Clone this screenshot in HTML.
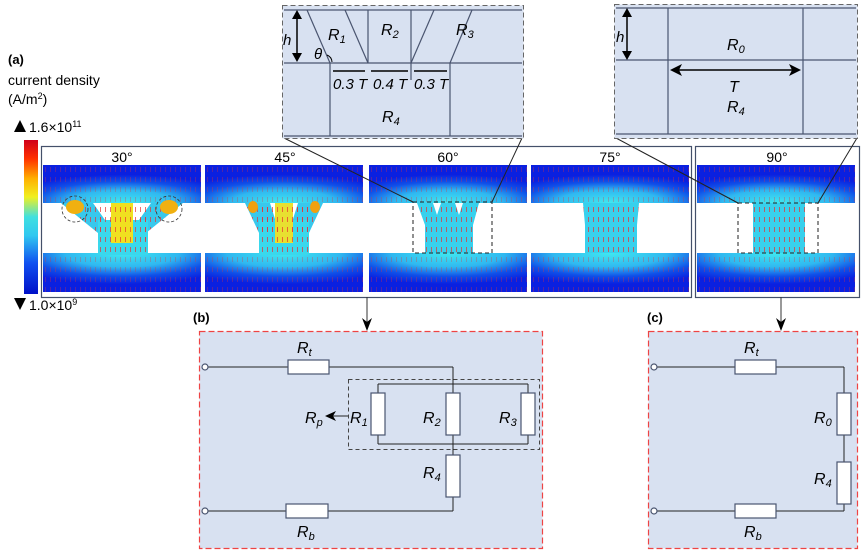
<!DOCTYPE html>
<html><head><meta charset="utf-8"><style>
html,body{margin:0;padding:0;background:#fff}
svg{display:block}
text{font-family:"Liberation Sans",Arial,sans-serif}
.it{font-style:italic}
</style></head><body>
<svg width="865" height="554" viewBox="0 0 865 554" xmlns="http://www.w3.org/2000/svg">
<defs>
<linearGradient id="cb" x1="0" y1="0" x2="0" y2="1">
<stop offset="0" stop-color="#d0001a"/><stop offset="0.12" stop-color="#ff3000"/><stop offset="0.25" stop-color="#ffb000"/><stop offset="0.37" stop-color="#f0f020"/><stop offset="0.5" stop-color="#40e0e0"/><stop offset="0.62" stop-color="#30c8f0"/><stop offset="0.8" stop-color="#1050f0"/><stop offset="1" stop-color="#0010c8"/>
</linearGradient>
<radialGradient id="gt" cx="0.5" cy="1" r="0.75" fx="0.5" fy="1">
<stop offset="0" stop-color="#40e8f0"/><stop offset="0.45" stop-color="#30b8f0"/><stop offset="0.75" stop-color="#1050e8"/><stop offset="1" stop-color="#0a20e0"/>
</radialGradient>
<radialGradient id="gb" cx="0.5" cy="0" r="0.8" fx="0.5" fy="0">
<stop offset="0" stop-color="#40e8f0"/><stop offset="0.45" stop-color="#30b8f0"/><stop offset="0.75" stop-color="#1050e8"/><stop offset="1" stop-color="#0a20e0"/>
</radialGradient>
<pattern id="arr" width="5" height="10" patternUnits="userSpaceOnUse">
<line x1="2.5" y1="2" x2="2.5" y2="7" stroke="#e83030" stroke-width="0.7"/>
</pattern>
<g id="blocks">
<rect x="0" y="0" width="158" height="38" fill="url(#gt)"/>
<rect x="0" y="88" width="158" height="39" fill="url(#gb)"/>
<rect x="0" y="0" width="158" height="38" fill="url(#arr)" opacity="0.45"/>
<rect x="0" y="88" width="158" height="39" fill="url(#arr)" opacity="0.45"/>
</g>
</defs>

<text x="8" y="64" font-size="13" font-weight="bold">(a)</text>
<text x="8" y="85" font-size="14">current density</text>
<text x="8" y="104" font-size="14">(A/m<tspan font-size="9" dy="-5">2</tspan><tspan dy="5">)</tspan></text>
<polygon points="14,132 20,120 26,132" fill="#000"/>
<text x="29" y="132" font-size="14">1.6×10<tspan font-size="9" dy="-5">11</tspan></text>
<rect x="24" y="140" width="14" height="154" fill="url(#cb)"/>
<polygon points="14,298 26,298 20,310" fill="#000"/>
<text x="29" y="310" font-size="14">1.0×10<tspan font-size="9" dy="-5">9</tspan></text>

<rect x="41.5" y="146.5" width="650" height="151" fill="none" stroke="#44506a" stroke-width="1.2"/>
<rect x="695.5" y="146.5" width="164" height="151" fill="none" stroke="#44506a" stroke-width="1.2"/>

<text x="122" y="162" font-size="14" text-anchor="middle">30°</text>
<text x="285" y="162" font-size="14" text-anchor="middle">45°</text>
<text x="448" y="162" font-size="14" text-anchor="middle">60°</text>
<text x="610" y="162" font-size="14" text-anchor="middle">75°</text>
<text x="777" y="162" font-size="14" text-anchor="middle">90°</text>

<!-- 30 -->
<g transform="translate(43,165)">
<use href="#blocks"/>
<polygon points="18,38 50,38 62,55 55,78 55,68" fill="#38c8ec"/>
<polygon points="140,38 108,38 96,55 103,78 103,68" fill="#38c8ec"/>
<rect x="55" y="55" width="50" height="35" fill="#3ad8ec"/>
<rect x="68" y="38" width="22" height="40" fill="#f0e020"/>
<polygon points="18,38 50,38 62,55 55,78 55,68" fill="url(#arr)"/>
<polygon points="140,38 108,38 96,55 103,78 103,68" fill="url(#arr)"/>
<rect x="55" y="38" width="50" height="52" fill="url(#arr)"/>
<ellipse cx="32" cy="42" rx="9" ry="7" fill="#f0b010"/>
<ellipse cx="126" cy="42" rx="9" ry="7" fill="#f0b010"/>
<circle cx="32" cy="44" r="13" fill="none" stroke="#333" stroke-dasharray="3,2" stroke-width="0.8"/>
<circle cx="126" cy="44" r="13" fill="none" stroke="#333" stroke-dasharray="3,2" stroke-width="0.8"/>
</g>
<!-- 45 -->
<g transform="translate(205,165)">
<use href="#blocks"/>
<polygon points="40,38 65,38 75,70 55,70" fill="#38c8ec"/>
<polygon points="118,38 93,38 83,70 103,70" fill="#38c8ec"/>
<rect x="54" y="55" width="50" height="35" fill="#3ad8ec"/>
<rect x="70" y="38" width="18" height="40" fill="#e8e030"/>
<polygon points="40,38 65,38 75,70 55,70" fill="url(#arr)"/>
<polygon points="118,38 93,38 83,70 103,70" fill="url(#arr)"/>
<rect x="54" y="38" width="50" height="52" fill="url(#arr)"/>
<ellipse cx="48" cy="42" rx="5" ry="6" fill="#f0a010"/>
<ellipse cx="110" cy="42" rx="5" ry="6" fill="#f0a010"/>
</g>
<!-- 60 -->
<g transform="translate(369,165)">
<use href="#blocks"/>
<polygon points="48,38 110,38 104,60 104,88 56,88 56,60" fill="#38d0ec"/>
<polygon points="48,38 110,38 104,60 104,88 56,88 56,60" fill="url(#arr)"/>
<polygon points="64,38 72,38 68,50" fill="#fff"/>
<polygon points="86,38 94,38 90,50" fill="#fff"/>
</g>
<!-- 75 -->
<g transform="translate(531,165)">
<use href="#blocks"/>
<polygon points="52,38 108,38 106,60 106,88 54,88 54,60" fill="#38d0ec"/>
<polygon points="52,38 108,38 106,60 106,88 54,88 54,60" fill="url(#arr)"/>
</g>
<!-- 90 -->
<g transform="translate(697,165)">
<use href="#blocks"/>
<rect x="56" y="38" width="52" height="50" fill="#38d0ec"/>
<rect x="56" y="38" width="52" height="50" fill="url(#arr)"/>
</g>

<rect x="413" y="202" width="79" height="51" fill="none" stroke="#222" stroke-dasharray="4,3"/>
<rect x="738" y="203" width="80" height="50" fill="none" stroke="#222" stroke-dasharray="4,3"/>
<line x1="284" y1="138" x2="413" y2="202" stroke="#222"/>
<line x1="522" y1="138" x2="492" y2="202" stroke="#222"/>
<line x1="616" y1="138" x2="738" y2="203" stroke="#222"/>
<line x1="857" y1="138" x2="818" y2="203" stroke="#222"/>

<!-- inset 1 -->
<rect x="282.5" y="5.5" width="241" height="133" fill="#d8e1f1" stroke="#666" stroke-dasharray="5,3"/>
<g stroke="#4a5570" stroke-width="1.2" fill="none">
<line x1="284" y1="10" x2="522" y2="10"/>
<line x1="284" y1="63" x2="522" y2="63"/>
<line x1="284" y1="136" x2="522" y2="136"/>
<line x1="307" y1="10" x2="330" y2="63"/>
<line x1="345" y1="10" x2="368" y2="63"/>
<line x1="368" y1="10" x2="368" y2="63"/>
<line x1="411" y1="10" x2="411" y2="80"/>
<line x1="434" y1="10" x2="411" y2="63"/>
<line x1="472" y1="10" x2="450" y2="63"/>
<line x1="330" y1="63" x2="330" y2="136"/>
<line x1="450" y1="63" x2="450" y2="136"/>
</g>
<g stroke="#000" stroke-width="1.5">
<line x1="297" y1="14" x2="297" y2="58"/>
<line x1="333" y1="71" x2="365" y2="71"/><line x1="371" y1="71" x2="408" y2="71"/><line x1="414" y1="71" x2="447" y2="71"/>
</g>
<polygon points="297,10 292,19 302,19" fill="#000"/><polygon points="297,62 292,53 302,53" fill="#000"/>
<text x="283" y="45" font-size="15" class="it">h</text>
<text x="314" y="59" font-size="15" class="it">θ</text>
<path d="M327,55 A8,8 0 0 1 332,62" fill="none" stroke="#000"/>
<text x="328" y="40" font-size="16" class="it">R<tspan font-size="11" dy="3">1</tspan></text>
<text x="381" y="35" font-size="16" class="it">R<tspan font-size="11" dy="3">2</tspan></text>
<text x="456" y="35" font-size="16" class="it">R<tspan font-size="11" dy="3">3</tspan></text>
<text x="382" y="122" font-size="16" class="it">R<tspan font-size="11" dy="3">4</tspan></text>
<text x="333" y="89" font-size="15" class="it">0.3 T</text>
<text x="373" y="89" font-size="15" class="it">0.4 T</text>
<text x="414" y="89" font-size="15" class="it">0.3 T</text>

<!-- inset 2 -->
<rect x="614.5" y="4.5" width="243" height="134" fill="#d8e1f1" stroke="#666" stroke-dasharray="5,3"/>
<g stroke="#4a5570" stroke-width="1.2">
<line x1="616" y1="8" x2="856" y2="8"/>
<line x1="616" y1="60" x2="856" y2="60"/>
<line x1="616" y1="134" x2="856" y2="134"/>
<line x1="668" y1="8" x2="668" y2="134"/>
<line x1="803" y1="8" x2="803" y2="134"/>
</g>
<line x1="627" y1="13" x2="627" y2="55" stroke="#000" stroke-width="1.5"/>
<polygon points="627,8 622,17 632,17" fill="#000"/><polygon points="627,60 622,51 632,51" fill="#000"/>
<text x="616" y="42" font-size="15" class="it">h</text>
<line x1="676" y1="70" x2="795" y2="70" stroke="#000" stroke-width="1.5"/>
<polygon points="670,70 682,64 679,70 682,76" fill="#000"/><polygon points="801,70 789,64 792,70 789,76" fill="#000"/>
<text x="727" y="50" font-size="16" class="it">R<tspan font-size="11" dy="3">0</tspan></text>
<text x="729" y="92" font-size="16" class="it">T</text>
<text x="727" y="112" font-size="16" class="it">R<tspan font-size="11" dy="3">4</tspan></text>

<line x1="367" y1="297" x2="367" y2="325" stroke="#333"/>
<polygon points="362,318 367,331 372,318 367,322" fill="#000"/>
<line x1="781" y1="297" x2="781" y2="325" stroke="#333"/>
<polygon points="776,318 781,331 786,318 781,322" fill="#000"/>
<text x="193" y="322" font-size="13" font-weight="bold">(b)</text>
<text x="647" y="322" font-size="13" font-weight="bold">(c)</text>

<!-- circuit b -->
<rect x="199.5" y="331.5" width="343" height="217" fill="#d8e1f1" stroke="#ee4444" stroke-dasharray="6,3" stroke-width="1.2"/>
<g stroke="#222" stroke-width="1" fill="none">
<line x1="208" y1="367" x2="288" y2="367"/>
<line x1="329" y1="367" x2="453" y2="367"/>
<line x1="453" y1="367" x2="453" y2="393"/>
<line x1="378" y1="384" x2="528" y2="384"/>
<line x1="378" y1="384" x2="378" y2="393"/><line x1="528" y1="384" x2="528" y2="393"/>
<line x1="378" y1="435" x2="378" y2="444"/><line x1="528" y1="435" x2="528" y2="444"/><line x1="453" y1="435" x2="453" y2="455"/>
<line x1="378" y1="444" x2="528" y2="444"/>
<line x1="453" y1="497" x2="453" y2="511"/>
<line x1="208" y1="511" x2="286" y2="511"/>
<line x1="328" y1="511" x2="453" y2="511"/>
<line x1="330" y1="416" x2="348" y2="416"/>
</g>
<rect x="348.5" y="379.5" width="191" height="70" fill="none" stroke="#444" stroke-dasharray="4,3"/>
<g fill="#fff" stroke="#4a5570" stroke-width="1.2">
<circle cx="205" cy="367" r="3"/><circle cx="205" cy="511" r="3"/>
<rect x="288" y="360" width="41" height="14"/>
<rect x="371" y="393" width="14" height="42"/>
<rect x="446" y="393" width="14" height="42"/>
<rect x="521" y="393" width="14" height="42"/>
<rect x="446" y="455" width="14" height="42"/>
<rect x="286" y="504" width="42" height="14"/>
</g>
<polygon points="325,416 336,411 333,416 336,421" fill="#000"/>
<g font-size="16" class="it">
<text x="297" y="353">R<tspan font-size="11" dy="3">t</tspan></text>
<text x="305" y="423">R<tspan font-size="11" dy="3">p</tspan></text>
<text x="350" y="423">R<tspan font-size="11" dy="3">1</tspan></text>
<text x="423" y="423">R<tspan font-size="11" dy="3">2</tspan></text>
<text x="499" y="423">R<tspan font-size="11" dy="3">3</tspan></text>
<text x="423" y="478">R<tspan font-size="11" dy="3">4</tspan></text>
<text x="297" y="537">R<tspan font-size="11" dy="3">b</tspan></text>
</g>

<!-- circuit c -->
<rect x="648.5" y="331.5" width="209" height="217" fill="#d8e1f1" stroke="#ee4444" stroke-dasharray="6,3" stroke-width="1.2"/>
<g stroke="#222" stroke-width="1" fill="none">
<line x1="657" y1="367" x2="735" y2="367"/>
<line x1="776" y1="367" x2="844" y2="367"/>
<line x1="844" y1="367" x2="844" y2="393"/>
<line x1="844" y1="435" x2="844" y2="462"/>
<line x1="844" y1="504" x2="844" y2="511"/>
<line x1="657" y1="511" x2="735" y2="511"/>
<line x1="776" y1="511" x2="844" y2="511"/>
</g>
<g fill="#fff" stroke="#4a5570" stroke-width="1.2">
<circle cx="654" cy="367" r="3"/><circle cx="654" cy="511" r="3"/>
<rect x="735" y="360" width="41" height="14"/>
<rect x="837" y="393" width="14" height="42"/>
<rect x="837" y="462" width="14" height="42"/>
<rect x="735" y="504" width="41" height="14"/>
</g>
<g font-size="16" class="it">
<text x="744" y="353">R<tspan font-size="11" dy="3">t</tspan></text>
<text x="814" y="423">R<tspan font-size="11" dy="3">0</tspan></text>
<text x="814" y="484">R<tspan font-size="11" dy="3">4</tspan></text>
<text x="744" y="537">R<tspan font-size="11" dy="3">b</tspan></text>
</g>
</svg>
</body></html>
